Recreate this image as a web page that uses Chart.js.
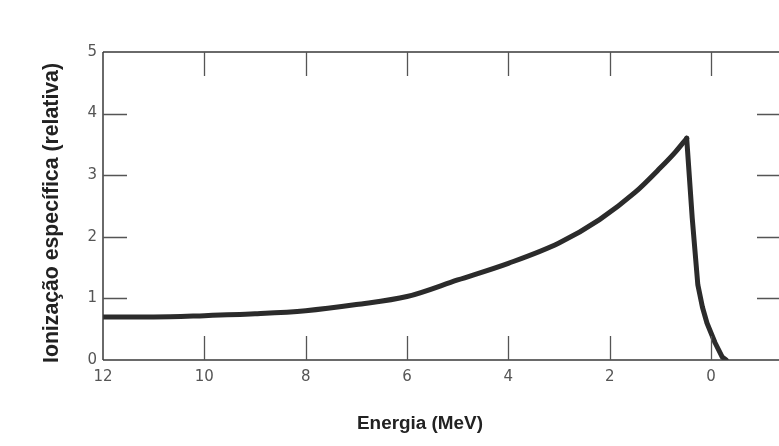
<!DOCTYPE html>
<html><head><meta charset="utf-8">
<script src="https://cdn.jsdelivr.net/npm/chart.js@4"></script>
<style>html,body{margin:0;padding:0;background:#fff;overflow:hidden}</style>
</head><body>
<canvas id="c" width="779" height="446"></canvas>
<script>
// Data (Bragg curve)
const energyMeV = [12, 11, 10, 9, 8, 7, 6, 5, 4, 3, 2.2, 1.5, 1.0, 0.7, 0.48, 0.37, 0.26, 0.17, 0.08, -0.08, -0.22, -0.3];
const ionization = [0.7, 0.7, 0.72, 0.75, 0.8, 0.9, 1.03, 1.3, 1.57, 1.9, 2.28, 2.72, 3.12, 3.38, 3.6, 2.3, 1.22, 0.86, 0.6, 0.28, 0.05, 0];
const xTickValues = [12, 10, 8, 6, 4, 2, 0];
const yTickValues = [0, 1, 2, 3, 4, 5];
const rightTickValues = [1, 2, 3, 4];
const xTitle = 'Energia (MeV)';
const yTitle = 'Ionização específica (relativa)';

const points = energyMeV.map((e, i) => ({x: e, y: ionization[i]}));
const peakIndex = ionization.indexOf(Math.max(...ionization));
const risingPart = points.slice(0, peakIndex + 1);
const fallingPart = points.slice(peakIndex);

function fitText(ctx, text, weight, family, targetWidth) {
  let size = 16;
  ctx.font = `${weight} ${size}px ${family}`;
  const w = ctx.measureText(text).width;
  size = size * targetWidth / w;
  ctx.font = `${weight} ${size.toFixed(2)}px ${family}`;
}

const frame = {
  id: 'frame',
  afterDraw(chart) {
    const ctx = chart.ctx, a = chart.chartArea;
    const xs = chart.scales.x, ys = chart.scales.y;
    const TL = 24;
    ctx.save();
    ctx.strokeStyle = '#3a3a3a';
    ctx.lineWidth = 1.5;
    ctx.beginPath();
    ctx.moveTo(a.left, a.top); ctx.lineTo(a.left, a.bottom);
    ctx.moveTo(a.left, a.bottom); ctx.lineTo(a.right, a.bottom);
    ctx.moveTo(a.left, a.top); ctx.lineTo(a.right, a.top);
    ctx.stroke();
    ctx.strokeStyle = '#555';
    ctx.lineWidth = 1.3;
    ctx.beginPath();
    xTickValues.forEach(v => {
      if (v === 12) return;
      const px = Math.round(xs.getPixelForValue(v)) + 0.5;
      ctx.moveTo(px, a.bottom); ctx.lineTo(px, a.bottom - TL);
      ctx.moveTo(px, a.top); ctx.lineTo(px, a.top + TL);
    });
    yTickValues.forEach(v => {
      if (v === 0 || v === 5) return;
      const py = Math.round(ys.getPixelForValue(v)) + 0.5;
      ctx.moveTo(a.left, py); ctx.lineTo(a.left + TL, py);
    });
    rightTickValues.forEach(v => {
      const py = Math.round(ys.getPixelForValue(v)) + 0.5;
      ctx.moveTo(a.right, py); ctx.lineTo(a.right - 22, py);
    });
    ctx.stroke();
    // axis titles
    ctx.fillStyle = '#222';
    ctx.textAlign = 'center';
    ctx.textBaseline = 'middle';
    const fam = '"Liberation Sans", Arial, sans-serif';
    fitText(ctx, xTitle, 'bold', fam, 126);
    ctx.fillText(xTitle, 420, 424);
    fitText(ctx, yTitle, 'bold', fam, 300);
    ctx.translate(52, 213);
    ctx.rotate(-Math.PI / 2);
    ctx.fillText(yTitle, 0, 0);
    ctx.restore();
  }
};

new Chart(document.getElementById('c'), {
  type: 'line',
  data: {
    datasets: [{
      data: risingPart,
      borderColor: '#2b2b2b',
      borderWidth: 5,
      pointRadius: 0,
      borderCapStyle: 'round',
      borderJoinStyle: 'round',
      cubicInterpolationMode: 'monotone',
      fill: false
    }, {
      data: fallingPart,
      borderColor: '#2b2b2b',
      borderWidth: 5,
      pointRadius: 0,
      tension: 0,
      borderCapStyle: 'round',
      borderJoinStyle: 'round',
      fill: false
    }]
  },
  options: {
    responsive: false,
    devicePixelRatio: 1,
    animation: false,
    layout: {padding: {top: 52, right: 0, left: 0, bottom: 0}},
    plugins: {legend: {display: false}, tooltip: {enabled: false}},
    scales: {
      x: {
        type: 'linear',
        reverse: true,
        min: -1.342,
        max: 12,
        afterBuildTicks: s => { s.ticks = xTickValues.map(v => ({value: v})); },
        afterFit: s => { s.height = 86; },
        grid: {display: false, drawTicks: false},
        border: {display: false},
        ticks: {color: '#555', font: {family: '"DejaVu Sans"', size: 15}, padding: 8, maxRotation: 0, autoSkip: false}
      },
      y: {
        min: 0,
        max: 5,
        afterBuildTicks: s => { s.ticks = yTickValues.map(v => ({value: v})); },
        afterFit: s => { s.width = 103; },
        grid: {display: false, drawTicks: false},
        border: {display: false},
        ticks: {color: '#555', font: {family: '"DejaVu Sans"', size: 15}, padding: 6}
      }
    }
  },
  plugins: [frame]
});
</script>
</body></html>
